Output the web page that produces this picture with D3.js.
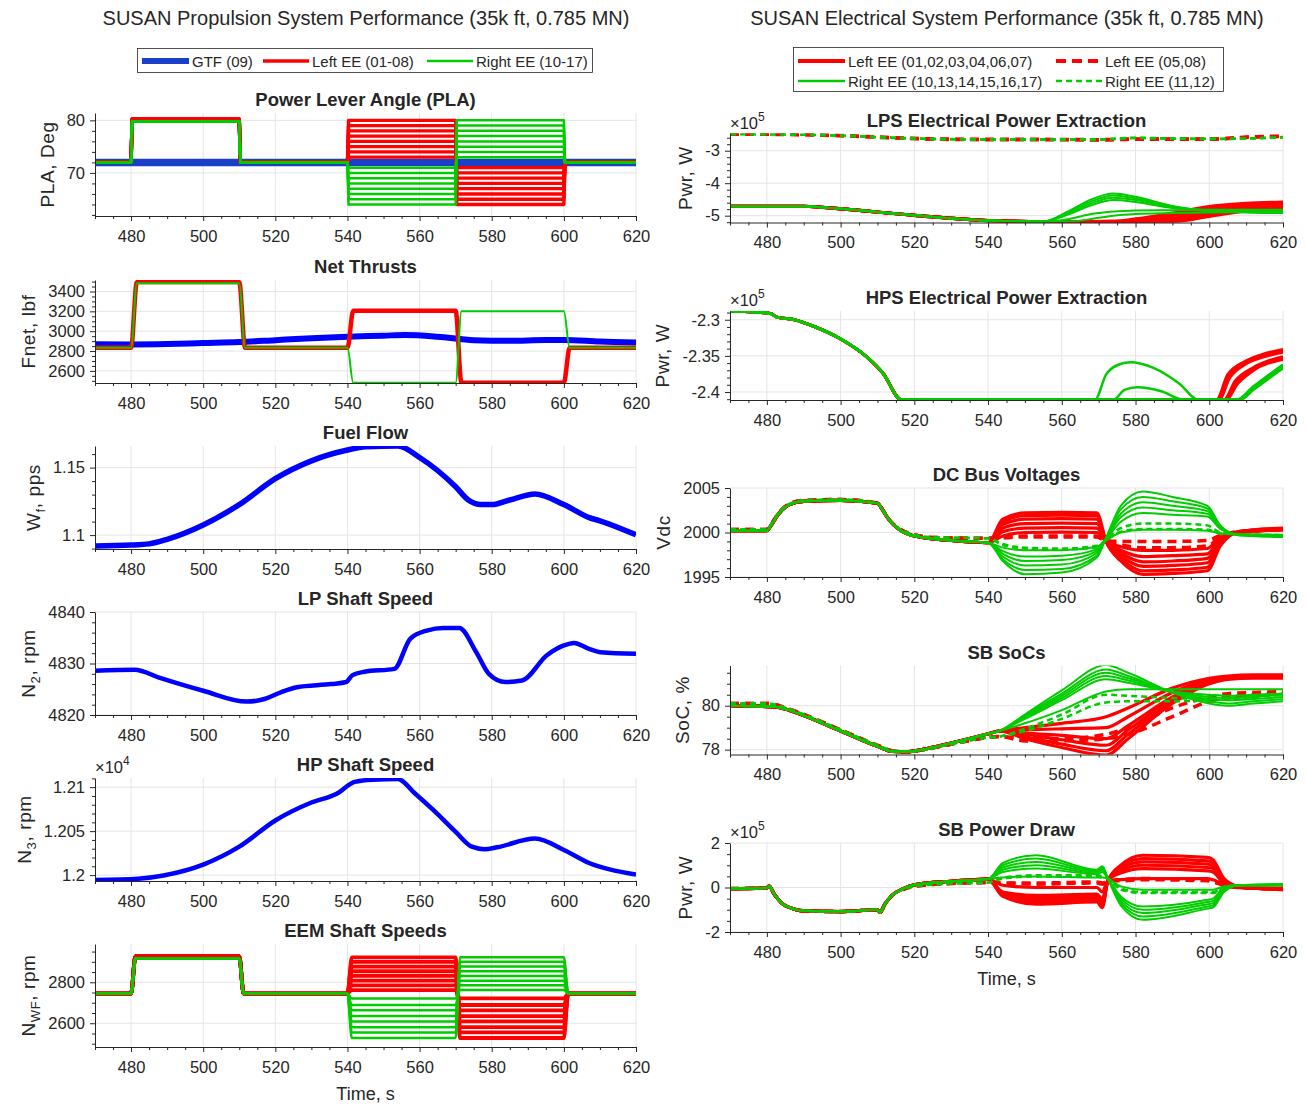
<!DOCTYPE html>
<html>
<head>
<meta charset="utf-8">
<script src="https://cdn.jsdelivr.net/npm/d3@7"></script>
<style>
body { margin: 0; background: #fff; }
text { font-family: "Liberation Sans", Arial, Helvetica, sans-serif; fill: #262626; }
</style>
</head>
<body>
<script>
// ---------- data ----------
var xDomain = [470, 620];
var switchTimes = [480, 510, 540, 570, 600];

// PLA, deg  (levels per segment: pre, 480-510, 510-540, 540-570, 570-600, post)
var plaGtf = [[470, 72], [620, 72]];
var plaUp = [73, 74, 75, 76, 77, 78, 79, 80];
var plaDown = [71, 70, 69, 68, 67, 66, 65, 64];
var plaBase = 72, plaLeftStep = 80.2, plaRightStep = 79.8;

// Net thrust, lbf
var thrLeftLevels = [2832, 3495, 2832, 3205, 2480, 2832];
var thrRightLevels = [2832, 3482, 2832, 2480, 3200, 2832];
var thrGtfT = [470, 480, 490, 500, 510, 520, 530, 540, 550, 556, 565, 575, 585, 595, 600, 610, 620];
var thrGtf = [2868, 2866, 2870, 2880, 2890, 2910, 2930, 2945, 2955, 2962, 2945, 2910, 2903, 2912, 2912, 2895, 2886];

// Fuel flow, pps
var fuelT = [470, 480, 485, 490, 500, 510, 520, 530, 540, 545, 554, 560, 570, 573.5, 577, 580, 585, 592, 600, 607, 610, 620];
var fuelV = [1.092, 1.0926, 1.0935, 1.0969, 1.1075, 1.1226, 1.1418, 1.155, 1.163, 1.1654, 1.166, 1.1575, 1.1358, 1.126, 1.1226, 1.1226, 1.126, 1.1305, 1.1226, 1.113, 1.1106, 1.1002];

// LP shaft speed, rpm
var lpT = [470, 481, 488, 500, 512, 517, 521.5, 526, 535.5, 539.7, 541.3, 544.7, 553, 557.4, 562, 566.6, 571, 575.7, 579.2, 583.8, 588.4, 595.3, 600, 602.8, 606.8, 610.2, 620];
var lpV = [4828.6, 4828.8, 4827.2, 4824.7, 4822.6, 4823.1, 4824.4, 4825.4, 4826.0, 4826.4, 4827.7, 4828.4, 4828.96, 4834.8, 4836.4, 4836.9, 4836.9, 4832.2, 4828.0, 4826.4, 4826.7, 4831.6, 4833.5, 4834.0, 4832.9, 4832.2, 4831.9];

// HP shaft speed, x1e4 rpm
var hpT = [470, 482, 489, 500, 510, 520, 530, 537, 542, 547, 554, 558.5, 564, 570, 574.5, 578, 581.5, 592, 600, 607, 620];
var hpV = [1.19944, 1.19959, 1.19996, 1.20119, 1.20323, 1.20621, 1.20825, 1.20926, 1.2106, 1.21085, 1.21093, 1.20937, 1.20732, 1.20491, 1.20323, 1.20294, 1.20316, 1.20416, 1.20286, 1.20138, 1.20007];

// EEM shaft speeds, rpm
var eemUp = [2762, 2785, 2808, 2831, 2854, 2877, 2900, 2922];
var eemDown = [2721, 2689, 2663, 2635, 2609, 2581, 2555, 2528];
var eemBase = 2745, eemLeftStep = 2926, eemRightStep = 2916;

// LPS power extraction, x1e5 W
var lpsPre = [[470, -4.71], [490, -4.71], [500, -4.79], [520, -4.99], [540, -5.15], [555, -5.18]];
var lpsTailT = [562, 568, 574, 580, 590, 600, 610, 620];
var lpsLeftSolid = [
  [-5.18, -5.18, -5.17, -5.10, -4.92, -4.72, -4.62, -4.58],
  [-5.18, -5.18, -5.18, -5.15, -5.00, -4.78, -4.66, -4.62],
  [-5.18, -5.18, -5.18, -5.18, -5.08, -4.84, -4.70, -4.66],
  [-5.18, -5.18, -5.18, -5.18, -5.15, -4.90, -4.75, -4.70],
  [-5.18, -5.18, -5.18, -5.18, -5.18, -4.96, -4.80, -4.74],
  [-5.18, -5.18, -5.18, -5.18, -5.18, -5.02, -4.85, -4.78]];
var lpsRightSolid = [
  [-4.85, -4.50, -4.32, -4.42, -4.70, -4.85, -4.90, -4.92],
  [-4.88, -4.56, -4.38, -4.47, -4.72, -4.86, -4.89, -4.90],
  [-4.91, -4.62, -4.45, -4.52, -4.74, -4.84, -4.86, -4.87],
  [-4.95, -4.68, -4.52, -4.58, -4.76, -4.83, -4.84, -4.84],
  [-5.10, -4.95, -4.87, -4.84, -4.83, -4.82, -4.82, -4.82],
  [-5.18, -5.10, -5.00, -4.95, -4.92, -4.90, -4.89, -4.88]];
var lpsDashT = [470, 490, 500, 520, 540, 555, 570, 580, 590, 600, 610, 620];
var lpsLeftDash = [
  [-2.48, -2.50, -2.53, -2.62, -2.65, -2.65, -2.66, -2.64, -2.64, -2.64, -2.58, -2.55],
  [-2.49, -2.51, -2.54, -2.63, -2.66, -2.66, -2.67, -2.65, -2.65, -2.65, -2.59, -2.56]];
var lpsRightDash = [
  [-2.48, -2.50, -2.53, -2.62, -2.65, -2.65, -2.65, -2.60, -2.62, -2.63, -2.62, -2.58],
  [-2.49, -2.51, -2.54, -2.63, -2.66, -2.66, -2.66, -2.61, -2.63, -2.64, -2.63, -2.59]];

// HPS power extraction, x1e5 W
var hpsPre = [[470, -2.2879], [481, -2.2913], [482.5, -2.2960], [487.5, -2.3000], [493, -2.3097], [500, -2.3266], [507, -2.3510], [511.5, -2.3740], [516.5, -2.4108], [520, -2.4108]];
var hpsLeftTails = [
  [[600, -2.4108], [602, -2.4108], [605, -2.376], [610, -2.357], [615, -2.347], [620, -2.341]],
  [[600, -2.4108], [602.3, -2.4108], [605.3, -2.378], [610, -2.359], [615, -2.349], [620, -2.343]],
  [[600, -2.4108], [602.6, -2.4108], [605.6, -2.380], [610, -2.361], [615, -2.351], [620, -2.345]],
  [[600, -2.4108], [604, -2.4108], [607, -2.385], [612, -2.366], [620, -2.351]],
  [[600, -2.4108], [604.3, -2.4108], [607.3, -2.387], [612, -2.368], [620, -2.353]],
  [[600, -2.4108], [604.6, -2.4108], [607.6, -2.389], [612, -2.370], [620, -2.355]]];
var hpsRightTails = [
  [[569, -2.4108], [572, -2.376], [575, -2.363], [578.5, -2.359], [585, -2.367], [592, -2.389], [597, -2.4108], [607.5, -2.4108], [612, -2.392], [616, -2.377], [620, -2.362]],
  [[574, -2.4108], [577, -2.397], [580.5, -2.3935], [587, -2.399], [593, -2.4108], [607.5, -2.4108], [612, -2.393], [616, -2.378], [620, -2.363]],
  [[607.5, -2.4108], [612, -2.394], [616, -2.379], [620, -2.364]],
  [[607.8, -2.4108], [612, -2.395], [616, -2.380], [620, -2.365]],
  [[608.1, -2.4108], [612, -2.396], [616, -2.381], [620, -2.366]],
  [[608.4, -2.4108], [612, -2.397], [616, -2.382], [620, -2.367]]];

// DC bus voltages, Vdc
var dcPre = [[470, 2000.2], [480, 2000.2], [481, 2000.7], [483, 2002.0], [486, 2003.1], [490, 2003.5], [500, 2003.6], [510, 2003.3], [511, 2002.8], [513, 2001.5], [516, 2000.3], [520, 1999.6], [530, 1999.1], [540, 1998.85]];
var dcPreDash = [[470, 2000.35], [480, 2000.35], [481, 2000.8], [483, 2002.1], [486, 2003.2], [490, 2003.6], [500, 2003.7], [510, 2003.3], [511, 2002.8], [513, 2001.5], [516, 2000.4], [520, 1999.75], [525, 1999.45], [540, 1999.35]];
var dcTailT = [544, 550, 560, 569.5, 572, 576, 582, 590, 599.5, 603, 608, 620];
var dcLeftSolid = [
  [2001.5, 2002.2, 2002.25, 2002.2, 1999.0, 1996.8, 1995.3, 1995.4, 1995.7, 1998.5, 2000.1, 2000.5],
  [2001.2, 2001.9, 2001.95, 2001.9, 1999.0, 1997.1, 1995.7, 1995.8, 1996.1, 1998.7, 2000.1, 2000.45],
  [2000.9, 2001.5, 2001.55, 2001.5, 1999.0, 1997.4, 1996.2, 1996.3, 1996.6, 1998.9, 2000.1, 2000.4],
  [2000.5, 2001.0, 2001.05, 2001.0, 1999.0, 1997.7, 1996.7, 1996.8, 1997.1, 1999.1, 2000.05, 2000.35],
  [2000.1, 2000.5, 2000.55, 2000.5, 1999.0, 1998.0, 1997.3, 1997.4, 1997.6, 1999.3, 2000.0, 2000.3],
  [1999.6, 2000.0, 2000.05, 2000.0, 1999.0, 1998.4, 1998.0, 1998.0, 1998.2, 1999.5, 2000.0, 2000.3]];
var dcLeftDash = [
  [1999.5, 1999.6, 1999.6, 1999.6, 1999.1, 1999.0, 1999.0, 1999.0, 1999.1, 1999.7, 2000.1, 2000.3],
  [1999.4, 1999.5, 1999.5, 1999.5, 1999.0, 1998.6, 1998.3, 1998.3, 1998.5, 1999.5, 2000.0, 2000.3]];
var dcRightSolid = [
  [1996.8, 1995.3, 1995.5, 1997.2, 1999.4, 2003.0, 2004.6, 2004.0, 2003.0, 2000.8, 1999.7, 1999.5],
  [1997.0, 1995.8, 1995.9, 1997.4, 1999.4, 2002.6, 2004.0, 2003.5, 2002.7, 2000.7, 1999.7, 1999.55],
  [1997.3, 1996.3, 1996.4, 1997.7, 1999.3, 2002.1, 2003.4, 2003.0, 2002.4, 2000.6, 1999.75, 1999.6],
  [1997.6, 1996.8, 1996.9, 1997.9, 1999.3, 2001.7, 2002.8, 2002.5, 2002.1, 2000.5, 1999.75, 1999.65],
  [1997.9, 1997.3, 1997.4, 1998.1, 1999.2, 2001.2, 2002.2, 2002.0, 2001.8, 2000.4, 1999.8, 1999.7],
  [1998.3, 1998.0, 1998.0, 1998.4, 1999.1, 2000.0, 2000.3, 2000.3, 2000.2, 1999.9, 1999.8, 1999.75]];
var dcRightDash = [
  [1998.7, 1998.3, 1998.2, 1998.5, 1999.2, 2000.5, 2001.0, 2001.0, 2000.8, 2000.0, 1999.8, 1999.7],
  [1998.6, 1998.2, 1998.1, 1998.3, 1999.1, 2000.1, 2000.4, 2000.4, 2000.3, 1999.9, 1999.8, 1999.7]];

// SB state of charge, %
var socPre = [[470, 80.0], [482, 79.95], [486, 79.8], [490, 79.55], [500, 78.85], [510, 78.15], [514, 77.92], [518, 77.9], [522, 78.0], [530, 78.3], [540, 78.72], [543, 78.85]];
var socPreDash = [[470, 80.1], [480, 80.1], [486, 79.85], [490, 79.6], [500, 78.9], [510, 78.2], [514, 77.95], [518, 77.9], [522, 77.98], [530, 78.25], [540, 78.55], [543, 78.6]];
var socTailT = [550, 560, 572, 578, 590, 600, 605, 612, 620];
var socLeftSolid = [
  [79.0, 79.2, 79.5, 79.9, 80.8, 81.25, 81.35, 81.4, 81.4],
  [78.9, 78.95, 79.0, 79.5, 80.6, 81.2, 81.3, 81.35, 81.35],
  [78.75, 78.65, 78.5, 79.1, 80.4, 81.15, 81.3, 81.35, 81.35],
  [78.7, 78.45, 78.2, 78.9, 80.3, 81.1, 81.25, 81.3, 81.3],
  [78.6, 78.25, 77.95, 78.7, 80.2, 81.05, 81.25, 81.3, 81.3],
  [78.5, 78.1, 77.75, 78.5, 80.1, 81.0, 81.2, 81.25, 81.25]];
var socLeftDash = [
  [78.5, 78.5, 78.7, 79.0, 79.9, 80.4, 80.55, 80.6, 80.65],
  [78.4, 78.4, 78.5, 78.7, 79.5, 80.2, 80.4, 80.5, 80.55]];
var socRightSolid = [
  [79.6, 80.7, 81.85, 81.5, 80.6, 80.1, 80.0, 80.1, 80.2],
  [79.55, 80.55, 81.65, 81.35, 80.6, 80.2, 80.1, 80.2, 80.3],
  [79.5, 80.45, 81.5, 81.25, 80.6, 80.3, 80.25, 80.3, 80.4],
  [79.45, 80.35, 81.35, 81.15, 80.65, 80.4, 80.35, 80.4, 80.5],
  [79.4, 80.25, 81.2, 81.05, 80.65, 80.5, 80.45, 80.5, 80.55],
  [79.2, 79.8, 80.65, 80.75, 80.75, 80.75, 80.75, 80.75, 80.75]];
var socRightDash = [
  [78.95, 79.6, 80.5, 80.45, 80.35, 80.3, 80.35, 80.45, 80.55],
  [78.85, 79.4, 80.15, 80.2, 80.2, 80.25, 80.3, 80.4, 80.5]];

// SB power draw, x1e5 W
var sbPre = [[470, -0.05], [480, -0.02], [480.6, 0.06], [482, -0.3], [484, -0.7], [487, -0.95], [490, -1.05], [500, -1.08], [510, -1.0], [510.7, -1.12], [512, -0.75], [514, -0.35], [517, -0.05], [520, 0.12], [530, 0.28], [540, 0.38]];
var sbPreDash = [[470, -0.05], [480, -0.02], [480.6, 0.06], [482, -0.3], [484, -0.7], [487, -0.95], [490, -1.05], [500, -1.08], [510, -1.0], [510.7, -1.12], [512, -0.75], [514, -0.35], [517, -0.08], [520, 0.05], [530, 0.18], [540, 0.22]];
var sbTailT = [544, 553, 569.5, 571, 572.5, 576, 582, 599.5, 601, 604, 608, 620];
var sbLeftSolid = [
  [-0.4, -0.75, -0.65, -0.9, 0.3, 1.0, 1.45, 1.35, 1.25, 0.4, 0.05, -0.1],
  [-0.35, -0.65, -0.55, -0.8, 0.3, 0.95, 1.3, 1.2, 1.1, 0.35, 0.05, -0.1],
  [-0.3, -0.55, -0.45, -0.7, 0.3, 0.85, 1.15, 1.05, 0.95, 0.3, 0.0, -0.08],
  [-0.25, -0.45, -0.35, -0.6, 0.3, 0.75, 1.0, 0.9, 0.85, 0.25, 0.0, -0.08],
  [-0.2, -0.35, -0.3, -0.5, 0.3, 0.65, 0.85, 0.75, 0.7, 0.2, 0.0, -0.05],
  [0.1, 0.0, 0.0, -0.2, 0.3, 0.35, 0.4, 0.4, 0.35, 0.15, 0.0, -0.05]];
var sbLeftDash = [
  [0.2, 0.2, 0.25, 0.2, 0.3, 0.35, 0.4, 0.35, 0.3, 0.1, 0.0, -0.05],
  [0.2, 0.15, 0.2, 0.15, 0.3, 0.3, 0.35, 0.3, 0.25, 0.1, 0.0, -0.05]];
var sbRightSolid = [
  [1.1, 1.45, 0.8, 0.95, 0.4, -0.8, -1.45, -0.95, -0.9, -0.2, 0.1, 0.15],
  [1.0, 1.3, 0.75, 0.9, 0.4, -0.7, -1.3, -0.85, -0.8, -0.15, 0.1, 0.15],
  [0.9, 1.15, 0.7, 0.85, 0.4, -0.6, -1.15, -0.75, -0.7, -0.1, 0.1, 0.12],
  [0.8, 1.0, 0.65, 0.8, 0.4, -0.5, -1.0, -0.65, -0.6, -0.05, 0.1, 0.12],
  [0.7, 0.85, 0.6, 0.7, 0.4, -0.4, -0.85, -0.55, -0.5, 0.0, 0.1, 0.1],
  [0.45, 0.5, 0.45, 0.45, 0.4, 0.05, -0.1, -0.1, -0.1, 0.05, 0.1, 0.1]];
var sbRightDash = [
  [0.45, 0.55, 0.55, 0.5, 0.4, -0.1, -0.25, -0.25, -0.25, 0.0, 0.1, 0.1],
  [0.4, 0.5, 0.5, 0.45, 0.4, -0.05, -0.2, -0.2, -0.2, 0.0, 0.1, 0.1]];

// ---------- helpers ----------
var RED = "#ff0000", GREEN = "#00cc00", BLUE = "#0000ff", GTFBLUE = "#1a40c8";
var AX = "#262626", GRID = "#e4e4e4";

function stepPts(levels, ramp) {
  var pts = [[xDomain[0], levels[0]]];
  switchTimes.forEach(function(t, i) {
    pts.push([t, levels[i]]);
    pts.push([t + ramp, levels[i + 1]]);
  });
  pts.push([xDomain[1], levels[levels.length - 1]]);
  return pts;
}
function zipT(t, v) { return t.map(function(d, i) { return [d, v[i]]; }); }
function withTail(pre, t, v) { return pre.concat(zipT(t, v)); }

var svg = d3.select("body").append("svg").attr("width", 1306).attr("height", 1104);
var xMajor = d3.range(480, 621, 20);
var xMinor = d3.range(470, 621, 5).filter(function(d) { return d % 20 !== 0; });
var clipN = 0;

function panel(c) {
  var x = d3.scaleLinear().domain(xDomain).range([c.x0, c.x1]);
  var y = d3.scaleLinear().domain(c.yDomain).range([c.top + c.h, c.top]);
  var g = svg.append("g");
  var bottom = c.top + c.h;

  g.append("g").selectAll("line").data(xMajor).join("line")
    .attr("x1", function(d) { return x(d); }).attr("x2", function(d) { return x(d); })
    .attr("y1", c.top).attr("y2", bottom).attr("stroke", GRID);
  g.append("g").selectAll("line").data(c.yTicks).join("line")
    .attr("x1", c.x0).attr("x2", c.x1)
    .attr("y1", function(d) { return y(d); }).attr("y2", function(d) { return y(d); })
    .attr("stroke", GRID);

  var id = "clip" + (clipN++);
  svg.append("clipPath").attr("id", id).append("rect")
    .attr("x", c.x0).attr("y", c.top).attr("width", c.x1 - c.x0).attr("height", c.h);
  var lines = g.append("g").attr("clip-path", "url(#" + id + ")");
  c.series.forEach(function(s) {
    var line = d3.line().x(function(d) { return x(d[0]); }).y(function(d) { return y(d[1]); })
      .curve(s.linear ? d3.curveLinear : d3.curveMonotoneX);
    lines.append("path").attr("d", line(s.pts)).attr("fill", "none")
      .attr("stroke", s.color).attr("stroke-width", s.width)
      .attr("stroke-dasharray", s.dash || null)
      .attr("stroke-linejoin", "round");
  });

  // axes
  var lo = c.yDomain[0], hi = c.yDomain[1];
  var yMinor = d3.range(Math.ceil(lo / c.yMinorStep) * c.yMinorStep, hi + 1e-9, c.yMinorStep)
    .filter(function(v) { return !c.yTicks.some(function(t) { return Math.abs(t - v) < c.yMinorStep / 10; }); });

  var xa = g.append("g").attr("transform", "translate(0," + bottom + ")");
  xa.call(d3.axisBottom(x).tickValues(xMajor).tickSize(5).tickSizeOuter(0).tickPadding(9).tickFormat(d3.format("d")));
  xa.append("g").call(d3.axisBottom(x).tickValues(xMinor).tickSize(3).tickSizeOuter(0).tickFormat(""))
    .select(".domain").remove();
  var ya = g.append("g").attr("transform", "translate(" + c.x0 + ",0)");
  ya.call(d3.axisLeft(y).tickValues(c.yTicks).tickSize(5).tickSizeOuter(0).tickPadding(5)
    .tickFormat(function(d) { return String(+d.toFixed(4)); }));
  ya.append("g").call(d3.axisLeft(y).tickValues(yMinor).tickSize(3).tickSizeOuter(0).tickFormat(""))
    .select(".domain").remove();
  g.selectAll(".domain").attr("stroke", AX);
  g.selectAll(".tick line").attr("stroke", AX);
  g.selectAll(".tick text").attr("fill", AX).style("font-size", "16.5px")
    .style("font-family", "'Liberation Sans', Arial, sans-serif");

  var maxW = 0;
  ya.selectAll(".tick text").each(function() { maxW = Math.max(maxW, this.getComputedTextLength()); });

  // title
  g.append("text").attr("x", (c.x0 + c.x1) / 2).attr("y", c.top - 7)
    .attr("text-anchor", "middle").style("font-size", "18.5px").style("font-weight", "bold")
    .attr("fill", "#000").text(c.title);

  // y label (with optional subscript)
  var lx = c.x0 - 10 - maxW - 13, ly = c.top + c.h / 2;
  var yl = g.append("text").attr("transform", "translate(" + lx + "," + ly + ") rotate(-90)")
    .attr("text-anchor", "middle").style("font-size", "19px").style("letter-spacing", "0.6px");
  c.ylabel.forEach(function(p) {
    var ts = yl.append("tspan").text(p[0]);
    if (p[1] === "sub") ts.attr("dy", 5).style("font-size", "13px");
    if (p[1] === "after") ts.attr("dy", -5);
  });

  if (c.exp) {
    var ex = g.append("text").attr("x", c.x0).attr("y", c.top - 5).style("font-size", "16.5px").attr("fill", "#555");
    ex.append("tspan").text("\u00d710");
    ex.append("tspan").attr("dy", -8).style("font-size", "12px").text(c.exp);
  }
  if (c.xlabel) {
    g.append("text").attr("x", (c.x0 + c.x1) / 2).attr("y", bottom + 53)
      .attr("text-anchor", "middle").style("font-size", "18px").text(c.xlabel);
  }
}

// ---------- build series ----------
var L = { x0: 95, x1: 636, h: 103 };
var R = { x0: 730, x1: 1283, h: 89 };
var leftTops = [113, 280, 446, 612, 778, 944];
var rightTops = [133.5, 311, 488, 665.5, 843];

var plaSeries = [{ pts: plaGtf, color: GTFBLUE, width: 7.5, linear: true }];
plaUp.forEach(function(u, i) {
  plaSeries.push({ pts: stepPts([plaBase, plaLeftStep, plaBase, u, plaDown[i], plaBase], 0.3), color: RED, width: 3.4, linear: true });
});
plaUp.forEach(function(u, i) {
  plaSeries.push({ pts: stepPts([plaBase, plaRightStep, plaBase, plaDown[i], u, plaBase], 0.3), color: GREEN, width: 2.5, linear: true });
});

var thrSeries = [{ pts: zipT(thrGtfT, thrGtf), color: BLUE, width: 6 },
  { pts: stepPts(thrLeftLevels, 1.6), color: RED, width: 4.5 },
  { pts: stepPts(thrRightLevels, 1.6), color: GREEN, width: 2 }];

var eemSeries = [];
eemUp.forEach(function(u, i) {
  eemSeries.push({ pts: stepPts([eemBase, eemLeftStep, eemBase, u, eemDown[i], eemBase], 1.2), color: RED, width: 3.8 });
});
eemUp.forEach(function(u, i) {
  eemSeries.push({ pts: stepPts([eemBase, eemRightStep, eemBase, eemDown[i], u, eemBase], 1.2), color: GREEN, width: 2.5 });
});

function fourGroups(preS, preD, t, ls, ld, rs, rd) {
  var out = [];
  ls.forEach(function(v) { out.push({ pts: withTail(preS, t, v), color: RED, width: 3.2 }); });
  ld.forEach(function(v) { out.push({ pts: withTail(preD, t, v), color: RED, width: 3.5, dash: "9,6" }); });
  rs.forEach(function(v) { out.push({ pts: withTail(preS, t, v), color: GREEN, width: 2 }); });
  rd.forEach(function(v) { out.push({ pts: withTail(preD, t, v), color: GREEN, width: 2.5, dash: "6,4" }); });
  return out;
}

var lpsSeries = [];
lpsLeftSolid.forEach(function(v) { lpsSeries.push({ pts: withTail(lpsPre, lpsTailT, v), color: RED, width: 3.2 }); });
lpsLeftDash.forEach(function(v) { lpsSeries.push({ pts: zipT(lpsDashT, v), color: RED, width: 3.5, dash: "9,6" }); });
lpsRightSolid.forEach(function(v) { lpsSeries.push({ pts: withTail(lpsPre, lpsTailT, v), color: GREEN, width: 2 }); });
lpsRightDash.forEach(function(v) { lpsSeries.push({ pts: zipT(lpsDashT, v), color: GREEN, width: 2.5, dash: "6,4" }); });

var hpsSeries = [];
hpsLeftTails.forEach(function(tail) { hpsSeries.push({ pts: hpsPre.concat(tail), color: RED, width: 3 }); });
hpsRightTails.forEach(function(tail) { hpsSeries.push({ pts: hpsPre.concat(tail), color: GREEN, width: 2.5 }); });

// ---------- panels ----------
panel({ x0: L.x0, x1: L.x1, top: leftTops[0], h: L.h, yDomain: [61.8, 81.4], yTicks: [70, 80], yMinorStep: 2,
  title: "Power Lever Angle (PLA)", ylabel: [["PLA, Deg"]], series: plaSeries });
panel({ x0: L.x0, x1: L.x1, top: leftTops[1], h: L.h, yDomain: [2478, 3516], yTicks: [2600, 2800, 3000, 3200, 3400], yMinorStep: 50,
  title: "Net Thrusts", ylabel: [["Fnet, lbf"]], series: thrSeries });
panel({ x0: L.x0, x1: L.x1, top: leftTops[2], h: L.h, yDomain: [1.0897, 1.166], yTicks: [1.1, 1.15], yMinorStep: 0.01,
  title: "Fuel Flow", ylabel: [["W"], ["f", "sub"], [", pps", "after"]],
  series: [{ pts: zipT(fuelT, fuelV), color: BLUE, width: 5.5 }] });
panel({ x0: L.x0, x1: L.x1, top: leftTops[3], h: L.h, yDomain: [4820, 4840], yTicks: [4820, 4830, 4840], yMinorStep: 2,
  title: "LP Shaft Speed", ylabel: [["N"], ["2", "sub"], [", rpm", "after"]],
  series: [{ pts: zipT(lpT, lpV), color: BLUE, width: 4.5 }] });
panel({ x0: L.x0, x1: L.x1, top: leftTops[4], h: L.h, yDomain: [1.19933, 1.21104], yTicks: [1.2, 1.205, 1.21], yMinorStep: 0.001,
  title: "HP Shaft Speed", ylabel: [["N"], ["3", "sub"], [", rpm", "after"]], exp: "4",
  series: [{ pts: zipT(hpT, hpV), color: BLUE, width: 4.5 }] });
panel({ x0: L.x0, x1: L.x1, top: leftTops[5], h: L.h, yDomain: [2484, 2987], yTicks: [2600, 2800], yMinorStep: 50,
  title: "EEM Shaft Speeds", ylabel: [["N"], ["WF", "sub"], [", rpm", "after"]], xlabel: "Time, s", series: eemSeries });

panel({ x0: R.x0, x1: R.x1, top: rightTops[0], h: R.h, yDomain: [-5.21, -2.47], yTicks: [-5, -4, -3], yMinorStep: 0.2,
  title: "LPS Electrical Power Extraction", ylabel: [["Pwr, W"]], exp: "5", series: lpsSeries });
panel({ x0: R.x0, x1: R.x1, top: rightTops[1], h: R.h, yDomain: [-2.4111, -2.2879], yTicks: [-2.4, -2.35, -2.3], yMinorStep: 0.01,
  title: "HPS Electrical Power Extraction", ylabel: [["Pwr, W"]], exp: "5", series: hpsSeries });
panel({ x0: R.x0, x1: R.x1, top: rightTops[2], h: R.h, yDomain: [1995, 2005], yTicks: [1995, 2000, 2005], yMinorStep: 1,
  title: "DC Bus Voltages", ylabel: [["Vdc"]],
  series: fourGroups(dcPre, dcPreDash, dcTailT, dcLeftSolid, dcLeftDash, dcRightSolid, dcRightDash) });
panel({ x0: R.x0, x1: R.x1, top: rightTops[3], h: R.h, yDomain: [77.78, 81.83], yTicks: [78, 80], yMinorStep: 0.5,
  title: "SB SoCs", ylabel: [["SoC, %"]],
  series: fourGroups(socPre, socPreDash, socTailT, socLeftSolid, socLeftDash, socRightSolid, socRightDash) });
panel({ x0: R.x0, x1: R.x1, top: rightTops[4], h: R.h, yDomain: [-2, 2], yTicks: [-2, 0, 2], yMinorStep: 0.5,
  title: "SB Power Draw", ylabel: [["Pwr, W"]], exp: "5", xlabel: "Time, s",
  series: fourGroups(sbPre, sbPreDash, sbTailT, sbLeftSolid, sbLeftDash, sbRightSolid, sbRightDash) });

// ---------- super titles ----------
svg.append("text").attr("x", 366).attr("y", 25).attr("text-anchor", "middle").style("font-size", "20px")
  .text("SUSAN Propulsion System Performance (35k ft, 0.785 MN)");
svg.append("text").attr("x", 1007).attr("y", 25).attr("text-anchor", "middle").style("font-size", "20px")
  .text("SUSAN Electrical System Performance (35k ft, 0.785 MN)");

// ---------- legends ----------
function legendItem(g, x1, x2, y, color, width, dash, label) {
  g.append("line").attr("x1", x1).attr("x2", x2).attr("y1", y).attr("y2", y)
    .attr("stroke", color).attr("stroke-width", width).attr("stroke-dasharray", dash || null);
  g.append("text").attr("x", x2 + 3).attr("y", y + 5.5).style("font-size", "15px").attr("fill", "#000").text(label);
}
var lg = svg.append("g");
lg.append("rect").attr("x", 137.5).attr("y", 48.5).attr("width", 455).attr("height", 24)
  .attr("fill", "#fff").attr("stroke", AX).attr("stroke-width", 0.8);
legendItem(lg, 142, 189, 61, GTFBLUE, 6, null, "GTF (09)");
legendItem(lg, 263, 309, 61, RED, 3.5, null, "Left EE (01-08)");
legendItem(lg, 427, 473, 61, GREEN, 2.5, null, "Right EE (10-17)");

var rg = svg.append("g");
rg.append("rect").attr("x", 793.5).attr("y", 47.5).attr("width", 430).attr("height", 44)
  .attr("fill", "#fff").attr("stroke", AX).attr("stroke-width", 0.8);
legendItem(rg, 798, 845, 61, RED, 4, null, "Left EE (01,02,03,04,06,07)");
legendItem(rg, 1056, 1102, 61, RED, 4, "10,6", "Left EE (05,08)");
legendItem(rg, 798, 845, 81, GREEN, 2.5, null, "Right EE (10,13,14,15,16,17)");
legendItem(rg, 1056, 1102, 81, GREEN, 2.5, "6,4", "Right EE (11,12)");
</script>
</body>
</html>
